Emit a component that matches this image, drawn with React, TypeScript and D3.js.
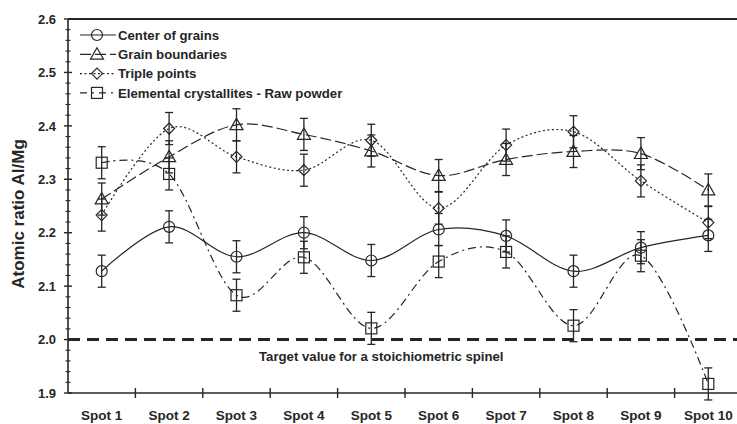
import React from "react";
import * as d3 from "d3";

const spots = ["Spot 1", "Spot 2", "Spot 3", "Spot 4", "Spot 5", "Spot 6", "Spot 7", "Spot 8", "Spot 9", "Spot 10"];
const centerOfGrains = [2.128, 2.211, 2.155, 2.2, 2.148, 2.206, 2.194, 2.128, 2.172, 2.195];
const grainBoundaries = [2.263, 2.342, 2.402, 2.384, 2.353, 2.307, 2.337, 2.352, 2.348, 2.28];
const triplePoints = [2.233, 2.395, 2.342, 2.317, 2.373, 2.246, 2.364, 2.389, 2.297, 2.219];
const crystallites = [2.331, 2.31, 2.083, 2.154, 2.021, 2.146, 2.164, 2.026, 2.157, 1.917];
const errCenter = [0.03, 0.03, 0.03, 0.03, 0.03, 0.03, 0.03, 0.03, 0.03, 0.03];
const errBoundaries = [0.03, 0.03, 0.03, 0.03, 0.03, 0.03, 0.03, 0.03, 0.03, 0.03];
const errTriple = [0.03, 0.03, 0.03, 0.03, 0.03, 0.03, 0.03, 0.03, 0.03, 0.03];
const errCrystallites = [0.03, 0.03, 0.03, 0.03, 0.03, 0.03, 0.03, 0.03, 0.03, 0.03];
const yTicks = [1.9, 2.0, 2.1, 2.2, 2.3, 2.4, 2.5, 2.6];
const targetValue = 2.0;
const seriesNames = ["Center of grains", "Grain boundaries", "Triple points", "Elemental crystallites - Raw powder"];

const W = 737;
const H = 424;
const INK = "#262626";
const FONT = "'Liberation Sans', Arial, Helvetica, sans-serif";

type Shape = "circle" | "triangle" | "diamond" | "square";

function Marker({ shape, cx, cy }: { shape: Shape; cx: number; cy: number }) {
  const common = { fill: "none", stroke: INK, strokeWidth: 1.2 };
  if (shape === "circle") return <circle cx={cx} cy={cy} r={5.5} {...common} />;
  if (shape === "square") return <rect x={cx - 5.5} y={cy - 5.5} width={11} height={11} {...common} />;
  if (shape === "triangle") {
    const s = 6.5;
    return <path d={`M${cx},${cy - s}L${cx + s},${cy + s * 0.75}L${cx - s},${cy + s * 0.75}Z`} {...common} />;
  }
  const s = 5.5;
  return <path d={`M${cx},${cy - s}L${cx + s},${cy}L${cx},${cy + s}L${cx - s},${cy}Z`} {...common} />;
}

export default function App() {
  const x = d3.scaleBand<string>().domain(spots).range([68, 742]);
  const y = d3.scaleLinear().domain([1.9, 2.6]).range([393, 19]);
  const cx = (s: string) => (x(s) as number) + x.bandwidth() / 2;

  const series = [
    { name: seriesNames[0], values: centerOfGrains, err: errCenter, shape: "circle" as Shape, dash: "none" },
    { name: seriesNames[1], values: grainBoundaries, err: errBoundaries, shape: "triangle" as Shape, dash: "11,4" },
    { name: seriesNames[2], values: triplePoints, err: errTriple, shape: "diamond" as Shape, dash: "2,2.5" },
    { name: seriesNames[3], values: crystallites, err: errCrystallites, shape: "square" as Shape, dash: "8,4,2,4" },
  ];

  const line = d3
    .line<number>()
    .x((_, i) => cx(spots[i]))
    .y((v) => y(v))
    .curve(d3.curveCardinal.tension(0));

  const minorTicks = d3.range(1.9, 2.6001, 0.02).filter((t) => Math.abs(Math.round(t * 10) - t * 10) > 0.01);
  const x0 = 68;
  const xEnd = 742;
  const yBase = y(1.9);
  const yTop = y(2.6);

  return (
    <svg width={W} height={H} style={{ position: "fixed", left: 0, top: 0, background: "#fff" }} fontFamily={FONT}>
      <rect width={W} height={H} fill="#fff" />
      {/* axes */}
      <line x1={x0} x2={xEnd} y1={yTop} y2={yTop} stroke={INK} strokeWidth={2} />
      <line x1={x0} x2={xEnd} y1={yBase} y2={yBase} stroke={INK} strokeWidth={1.6} />
      <line x1={x0} x2={x0} y1={yTop} y2={yBase} stroke={INK} strokeWidth={1.6} />
      {yTicks.map((t) => (
        <g key={t}>
          <line x1={x0 - 4} x2={x0 + 4} y1={y(t)} y2={y(t)} stroke={INK} strokeWidth={1.4} />
          <text x={x0 - 12} y={y(t)} dy="0.36em" textAnchor="end" fontSize={13} fontWeight="bold" fill={INK}>
            {t.toFixed(1)}
          </text>
        </g>
      ))}
      {minorTicks.map((t) => (
        <line key={t} x1={x0 - 2.5} x2={x0 + 2.5} y1={y(t)} y2={y(t)} stroke={INK} strokeWidth={1.1} />
      ))}
      {spots.map((s, i) => (
        <g key={s}>
          {i > 0 && (
            <line x1={x(s) as number} x2={x(s) as number} y1={yBase - 5} y2={yBase + 5} stroke={INK} strokeWidth={1.4} />
          )}
          <text x={cx(s)} y={yBase + 27} textAnchor="middle" fontSize={13.5} fontWeight="bold" fill={INK}>
            {s}
          </text>
        </g>
      ))}
      <text
        transform={`translate(24,${(yTop + yBase) / 2 + 8}) rotate(-90)`}
        textAnchor="middle"
        fontSize={17}
        fontWeight="bold"
        fill={INK}
      >
        Atomic ratio Al/Mg
      </text>

      {/* target line */}
      <line x1={x0} x2={xEnd} y1={y(targetValue)} y2={y(targetValue)} stroke={INK} strokeWidth={3} strokeDasharray="12,7" />
      <text x={259} y={y(targetValue) + 21} fontSize={13.2} fontWeight="bold" fill={INK}>
        Target value for a stoichiometric spinel
      </text>

      {/* series */}
      {series.map((sr) => (
        <g key={sr.name}>
          <path d={line(sr.values) || ""} fill="none" stroke={INK} strokeWidth={1.2} strokeDasharray={sr.dash} />
          {sr.values.map((v, i) => {
            const px = cx(spots[i]);
            const top = y(v + sr.err[i]);
            const bot = y(v - sr.err[i]);
            return (
              <g key={i}>
                <line x1={px} x2={px} y1={top} y2={bot} stroke={INK} strokeWidth={1.3} />
                <line x1={px - 4} x2={px + 4} y1={top} y2={top} stroke={INK} strokeWidth={1.3} />
                <line x1={px - 4} x2={px + 4} y1={bot} y2={bot} stroke={INK} strokeWidth={1.3} />
                <Marker shape={sr.shape} cx={px} cy={y(v)} />
              </g>
            );
          })}
        </g>
      ))}

      {/* legend */}
      {series.map((sr, i) => {
        const ly = 35 + i * 19.3;
        return (
          <g key={sr.name}>
            <line x1={80} x2={116} y1={ly} y2={ly} stroke={INK} strokeWidth={1.2} strokeDasharray={sr.dash === "8,4,2,4" ? "7,5,2,5" : sr.dash} />
            <Marker shape={sr.shape} cx={97} cy={ly} />
            <text x={118} y={ly} dy="0.36em" fontSize={13.2} fontWeight="bold" fill={INK}>
              {sr.name}
            </text>
          </g>
        );
      })}
    </svg>
  );
}
